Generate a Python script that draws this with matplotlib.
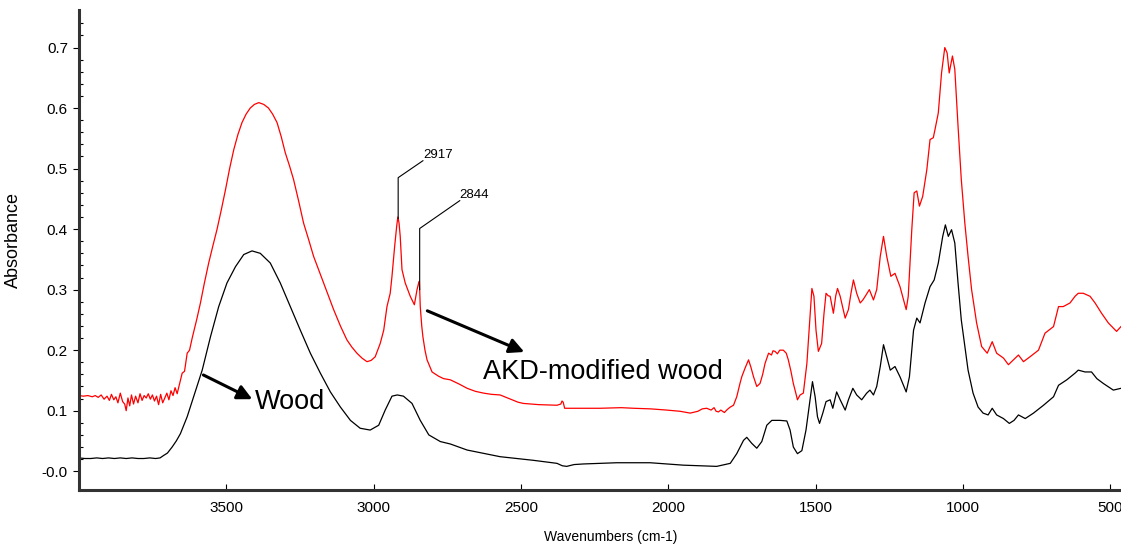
#FTIR spectra of wood and AKD-modified wood
import numpy as np
from matplotlib import pyplot as plt

plt.rcParams['font.family'] = ['Liberation Sans', 'DejaVu Sans']

#Wood spectrum (wavenumber, absorbance)
wood_wn = [4000, 3980, 3960, 3940, 3920, 3900, 3880, 3860, 3840, 3820, 3800, 3780, 3760,
           3740, 3725, 3713, 3700, 3684, 3670, 3656, 3633, 3611, 3582, 3554, 3526, 3498,
           3469, 3441, 3413, 3385, 3351, 3317, 3283, 3249, 3215, 3181, 3147, 3113, 3079,
           3046, 3012, 2983, 2961, 2938, 2920, 2899, 2870, 2842, 2813, 2774, 2740, 2683,
           2571, 2458, 2378, 2360, 2345, 2320, 2288, 2175, 2062, 1949, 1836, 1790, 1768,
           1745, 1734, 1717, 1700, 1683, 1666, 1649, 1621, 1598, 1587, 1576, 1562, 1547,
           1533, 1521, 1511, 1502, 1494, 1487, 1476, 1465, 1451, 1442, 1429, 1417, 1400,
           1389, 1374, 1361, 1344, 1327, 1316, 1304, 1293, 1281, 1270, 1259, 1247, 1231,
           1214, 1193, 1182, 1168, 1157, 1146, 1129, 1112, 1098, 1084, 1069, 1060, 1050,
           1039, 1028, 1017, 1006, 994, 983, 966, 949, 932, 915, 901, 886, 863, 843, 827,
           812, 789, 761, 727, 693, 676, 648, 620, 609, 586, 564, 546, 524, 490, 464]
wood_abs = [0.022, 0.021, 0.021, 0.022, 0.021, 0.022, 0.021, 0.022, 0.021, 0.022, 0.021,
            0.021, 0.022, 0.021, 0.022, 0.026, 0.030, 0.040, 0.050, 0.062, 0.090, 0.123,
            0.167, 0.222, 0.272, 0.311, 0.338, 0.358, 0.364, 0.360, 0.344, 0.311, 0.272,
            0.233, 0.195, 0.162, 0.131, 0.106, 0.084, 0.071, 0.068, 0.076, 0.101, 0.124,
            0.126, 0.124, 0.112, 0.084, 0.060, 0.049, 0.045, 0.035, 0.024, 0.018, 0.013,
            0.009, 0.008, 0.011, 0.012, 0.014, 0.014, 0.010, 0.008, 0.013, 0.029, 0.051,
            0.056, 0.046, 0.038, 0.049, 0.076, 0.084, 0.084, 0.083, 0.068, 0.040, 0.029,
            0.034, 0.068, 0.112, 0.148, 0.123, 0.090, 0.079, 0.096, 0.115, 0.118, 0.104,
            0.131, 0.118, 0.101, 0.118, 0.137, 0.126, 0.118, 0.129, 0.134, 0.126, 0.140,
            0.173, 0.209, 0.189, 0.167, 0.173, 0.156, 0.131, 0.156, 0.233, 0.253, 0.245,
            0.278, 0.305, 0.316, 0.344, 0.388, 0.407, 0.388, 0.399, 0.377, 0.311, 0.250,
            0.206, 0.167, 0.129, 0.106, 0.096, 0.093, 0.104, 0.093, 0.087, 0.079, 0.084,
            0.093, 0.087, 0.096, 0.109, 0.123, 0.142, 0.151, 0.162, 0.167, 0.164, 0.164,
            0.153, 0.145, 0.134, 0.137]

#AKD-modified wood spectrum
akd_wn = [4000, 3985, 3970, 3955, 3945, 3935, 3925, 3915, 3905, 3897, 3890, 3882, 3875,
          3868, 3860, 3852, 3845, 3840, 3834, 3828, 3822, 3815, 3808, 3800, 3793, 3786,
          3779, 3772, 3765, 3758, 3751, 3744, 3737, 3730, 3723, 3716, 3709, 3702, 3695,
          3688, 3681, 3674, 3667, 3660, 3650, 3642, 3633, 3625, 3616, 3600, 3588, 3575,
          3560, 3546, 3532, 3518, 3503, 3489, 3475, 3461, 3447, 3433, 3419, 3405, 3390,
          3373, 3357, 3343, 3328, 3314, 3300, 3286, 3272, 3255, 3238, 3221, 3204, 3187,
          3170, 3153, 3136, 3113, 3091, 3074, 3057, 3040, 3023, 3009, 2995, 2978, 2966,
          2955, 2944, 2938, 2929, 2922, 2918, 2914, 2910, 2904, 2893, 2876, 2862, 2853,
          2848, 2845, 2842, 2837, 2833, 2826, 2819, 2802, 2780, 2763, 2740, 2710, 2683,
          2655, 2627, 2600, 2571, 2540, 2510, 2492, 2440, 2378, 2365, 2361, 2357, 2352,
          2300, 2231, 2160, 2118, 2060, 2005, 1960, 1926, 1900, 1885, 1870, 1855, 1845,
          1838, 1830, 1822, 1810, 1800, 1790, 1779, 1768, 1757, 1751, 1740, 1728, 1720,
          1711, 1700, 1689, 1680, 1672, 1660, 1650, 1645, 1638, 1630, 1622, 1610, 1600,
          1593, 1584, 1576, 1568, 1562, 1553, 1542, 1530, 1520, 1513, 1506, 1499, 1491,
          1480, 1472, 1465, 1458, 1451, 1440, 1432, 1426, 1417, 1408, 1400, 1389, 1380,
          1372, 1361, 1349, 1340, 1332, 1318, 1304, 1293, 1281, 1270, 1259, 1245, 1231,
          1214, 1200, 1193, 1186, 1174, 1166, 1157, 1148, 1137, 1123, 1112, 1101, 1095,
          1084, 1073, 1062, 1054, 1047, 1036, 1028, 1017, 1006, 994, 983, 971, 954, 937,
          918, 901, 886, 863, 846, 829, 812, 795, 773, 744, 722, 693, 676, 660, 637, 620,
          609, 592, 569, 552, 530, 507, 479, 464]
akd_abs = [0.125, 0.124, 0.125, 0.123, 0.125, 0.122, 0.126, 0.119, 0.124, 0.117, 0.127,
           0.118, 0.123, 0.113, 0.129, 0.115, 0.111, 0.100, 0.121, 0.108, 0.126, 0.111,
           0.124, 0.113, 0.128, 0.117, 0.125, 0.121, 0.128, 0.119, 0.126, 0.116, 0.124,
           0.110, 0.127, 0.113, 0.121, 0.129, 0.118, 0.133, 0.125, 0.138, 0.128, 0.142,
           0.162, 0.165, 0.195, 0.200, 0.220, 0.252, 0.278, 0.310, 0.344, 0.372, 0.399,
           0.430, 0.465, 0.500, 0.531, 0.556, 0.576, 0.590, 0.600, 0.606, 0.609, 0.606,
           0.600, 0.590, 0.576, 0.553, 0.526, 0.505, 0.482, 0.447, 0.410, 0.383, 0.355,
           0.333, 0.311, 0.289, 0.267, 0.240, 0.217, 0.205, 0.195, 0.187, 0.181, 0.183,
           0.189, 0.211, 0.233, 0.272, 0.294, 0.322, 0.371, 0.405, 0.420, 0.410, 0.388,
           0.333, 0.311, 0.289, 0.275, 0.300, 0.310, 0.314, 0.272, 0.240, 0.222, 0.200,
           0.184, 0.164, 0.157, 0.153, 0.151, 0.144, 0.137, 0.132, 0.129, 0.127, 0.126,
           0.120, 0.114, 0.112, 0.110, 0.109, 0.111, 0.116, 0.114, 0.104, 0.104, 0.104,
           0.105, 0.104, 0.103, 0.101, 0.099, 0.096, 0.099, 0.103, 0.104, 0.101, 0.105,
           0.099, 0.098, 0.101, 0.097, 0.102, 0.106, 0.109, 0.123, 0.145, 0.156, 0.170,
           0.184, 0.172, 0.156, 0.140, 0.145, 0.160, 0.178, 0.195, 0.192, 0.199, 0.198,
           0.194, 0.200, 0.200, 0.195, 0.184, 0.165, 0.145, 0.130, 0.118, 0.126, 0.129,
           0.178, 0.250, 0.302, 0.289, 0.233, 0.198, 0.211, 0.260, 0.294, 0.290, 0.289,
           0.261, 0.290, 0.302, 0.289, 0.270, 0.253, 0.267, 0.295, 0.316, 0.294, 0.278,
           0.283, 0.289, 0.300, 0.283, 0.300, 0.355, 0.388, 0.355, 0.322, 0.327, 0.305,
           0.280, 0.267, 0.289, 0.399, 0.460, 0.463, 0.438, 0.454, 0.498, 0.548, 0.551,
           0.565, 0.592, 0.658, 0.700, 0.691, 0.658, 0.686, 0.664, 0.570, 0.482, 0.410,
           0.355, 0.300, 0.245, 0.206, 0.195, 0.214, 0.195, 0.187, 0.176, 0.184, 0.192,
           0.181, 0.189, 0.200, 0.228, 0.239, 0.272, 0.272, 0.278, 0.289, 0.294, 0.294,
           0.289, 0.278, 0.261, 0.245, 0.231, 0.239]

#Labelled peaks of the AKD spectrum
peak_wn = [2917, 2844]
peak_text = ['2917', '2844']

x_ticks = [3500, 3000, 2500, 2000, 1500, 1000, 500]
y_ticks = [0.0, 0.1, 0.2, 0.3, 0.4, 0.5, 0.6, 0.7]
y_ticklabels = ['-0.0', '0.1', '0.2', '0.3', '0.4', '0.5', '0.6', '0.7']

fig = plt.figure(figsize=(11.21, 5.44), dpi=100)
ax = fig.add_axes([0.0705, 0.0993, 0.9295, 0.8823])

ax.plot(wood_wn, wood_abs, c='black', lw=0.9)
ax.plot(akd_wn, akd_abs, c='#ff0000', lw=0.9)

#Peak labels with leader lines
akd_rev_wn = akd_wn[::-1]
akd_rev_abs = akd_abs[::-1]
bend = [0.485, 0.401]
label_pos = [(2833, 0.513), (2708, 0.447)]
for wn, txt, b, (lx, ly) in zip(peak_wn, peak_text, bend, label_pos):
    top = np.interp(wn, akd_rev_wn, akd_rev_abs)
    ax.plot([wn, wn, lx], [top, b, ly], c='black', lw=0.8)
    ax.text(lx, ly, txt, fontsize=9.5, ha='left', va='bottom')

#Sample labels with arrows
arrow = dict(arrowstyle='-|>', color='black', lw=2.2, mutation_scale=22,
             shrinkA=0, shrinkB=0)
ax.annotate('', xy=(3412, 0.119), xytext=(3578, 0.159), arrowprops=arrow)
ax.text(3402, 0.115, 'Wood', fontsize=19.5, ha='left', va='center')
ax.annotate('', xy=(2489, 0.197), xytext=(2818, 0.265), arrowprops=arrow)
ax.text(2628, 0.164, 'AKD-modified wood', fontsize=19.5, ha='left', va='center')

#Format axes
ax.set_xlim(4000, 464)
ax.set_ylim(-0.031, 0.762)
ax.set_xticks(x_ticks)
ax.set_yticks(y_ticks)
ax.set_yticklabels(y_ticklabels)
ax.set_yticks(np.arange(0, 0.76, 0.02), minor=True)
ax.tick_params(axis='x', direction='in', length=4, width=0.8, labelsize=11, pad=8)
ax.tick_params(axis='y', direction='out', length=4, width=0.8, labelsize=11, pad=4)
ax.tick_params(axis='y', which='minor', direction='in', length=3, width=0.8)
for side in ['top', 'right']:
    ax.spines[side].set_visible(False)
for side in ['left', 'bottom']:
    ax.spines[side].set_linewidth(2.2)
    ax.spines[side].set_color('#333333')

ax.set_ylabel('Absorbance', fontsize=13)
ax.yaxis.set_label_coords(-0.0545, 0.52)
ax.set_xlabel('Wavenumbers (cm-1)', fontsize=10)
ax.xaxis.set_label_coords(0.51, -0.083)

plt.savefig('out.png', dpi=100)
